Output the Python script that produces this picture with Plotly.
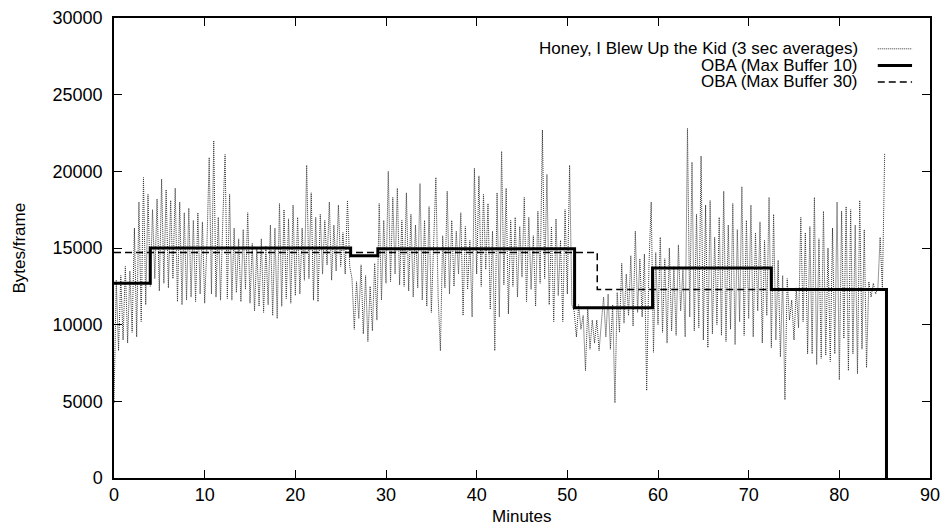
import numpy as np
import plotly.graph_objects as go

# 3 sec averages, resampled every 0.25 min
step_min = 0.25
trace_vals = [
    # 0-10 min
    4900, 12900, 8300, 13200, 9000, 13800, 8800, 13500, 9500, 16300,
    9200, 18000, 10200, 19600, 11300, 18500, 12500, 17500, 13000, 18200,
    12200, 19500, 12700, 18800, 12400, 18100, 13000, 18900, 11500, 18000,
    11300, 17300, 11600, 17600, 11800, 16800, 11500, 17300, 12000, 16700,
    # 10-20 min
    11400, 15200, 20900, 12000, 22000, 11800, 17000, 11600, 16800, 21100,
    11700, 18500, 11600, 16300, 12100, 15600, 11500, 16200, 12300, 17300,
    11400, 15300, 10900, 15000, 11200, 15600, 10800, 15100, 11300, 16500,
    10600, 16300, 10400, 17900, 11200, 17500, 11700, 16900, 11400, 17800,
    # 20-30 min
    11900, 17000, 12000, 16300, 12900, 20400, 13000, 18600, 11600, 17000,
    11500, 17200, 13300, 16800, 13900, 18000, 12900, 16500, 13500, 17800,
    13800, 16000, 13300, 18100, 13800, 13000, 9700, 12800, 10400, 13900,
    9400, 13200, 8900, 12500, 9600, 14000, 10300, 17900, 11600, 16800,
    # 30-40 min
    12700, 20000, 12800, 18300, 13300, 18900, 12600, 16800, 12500, 18600,
    12200, 17200, 11800, 16500, 12400, 19200, 11600, 16800, 11200, 17700,
    10800, 15700, 19600, 11800, 8300, 15800, 12400, 18700, 12000, 16800,
    12500, 16100, 13300, 17300, 10600, 16400, 12300, 15500, 10500, 20200,
    # 40-50 min
    13300, 19700, 12500, 18500, 13600, 17900, 11000, 16100, 8300, 18600,
    10500, 21300, 12600, 18900, 10700, 16800, 12500, 17000, 11800, 16400,
    13100, 18300, 11500, 17000, 12300, 15800, 11200, 17400, 12700, 22700,
    13000, 19800, 11300, 16400, 10200, 16900, 11900, 15500, 10200, 17500,
    # 50-60 min
    12000, 20400, 11300, 10900, 9200, 11300, 9700, 10600, 7000, 11100,
    8400, 10300, 8800, 10300, 8300, 10100, 11800, 9200, 12000, 8400,
    11300, 4900, 12100, 9500, 14000, 10100, 13300, 10600, 14500, 9900,
    16100, 10800, 14300, 10500, 14600, 5700, 13800, 18000, 8200, 14700,
    # 60-70 min
    10000, 15700, 9500, 14300, 8800, 15000, 9600, 13800, 9300, 15200,
    10900, 13600, 9200, 22800, 10500, 20600, 9600, 17200, 9800, 21000,
    9000, 17800, 8500, 18100, 9400, 15700, 10000, 17000, 9300, 18700,
    8900, 16500, 9700, 17900, 8700, 16200, 10200, 19000, 9300, 16800,
    # 70-85 min
    10400, 17800, 9200, 16000, 10900, 16700, 8800, 15500, 10600, 18300,
    8500, 17200, 9000, 14200, 7900, 13200, 5100, 13000, 10300, 11600,
    9000, 12400, 9800, 17000, 10200, 16000, 8100, 16400, 8100, 18300,
    7400, 15600, 7800, 17400, 8000, 15000, 7600, 16300, 8100, 18000,
    6400, 17400, 9100, 17700, 7000, 17500, 8100, 16500, 6800, 18100,
    8400, 16200, 7200, 12800, 11800, 12700, 12000, 12400, 15700, 12300,
    21200,
]

# OBA step schedules
oba10_x = [0, 4.0, 26.1, 29.1, 50.8, 59.4, 72.5, 85.2]
oba10_y = [12700, 15000, 14500, 14950, 11100, 13700, 12300, 0]
oba30_x = [0, 53.3, 85.2]
oba30_y = [14700, 12300, 12300]

trace_x = np.arange(len(trace_vals)) * step_min

FONT = "Liberation Sans, Arial, Helvetica, sans-serif"
DOTTED = dict(color="#333333", width=1, dash="1px,1px")
SOLID = dict(color="black", width=3)
DASHED = dict(color="black", width=1.5, dash="7px,4px")

fig = go.Figure()
fig.add_trace(go.Scatter(x=trace_x, y=trace_vals, mode="lines", line=DOTTED))
fig.add_trace(go.Scatter(x=oba10_x, y=oba10_y, mode="lines", line_shape="hv", line=SOLID))
fig.add_trace(go.Scatter(x=oba30_x, y=oba30_y, mode="lines", line_shape="hv", line=DASHED))

# gnuplot-style key: right-aligned text, sample line on the right
key_labels = ["Honey, I Blew Up the Kid (3 sec averages)",
              "OBA (Max Buffer 10)",
              "OBA (Max Buffer 30)"]
key_lines = [DOTTED, SOLID, DASHED]
key_y = [0.933, 0.897, 0.861]
for label, ln, ky in zip(key_labels, key_lines, key_y):
    fig.add_annotation(x=0.914, y=ky, xref="paper", yref="paper", text=label,
                       showarrow=False, xanchor="right", yanchor="middle",
                       font=dict(family=FONT, size=17, color="black"))
    fig.add_shape(type="line", xref="paper", yref="paper",
                  x0=0.936, x1=0.978, y0=ky, y1=ky, line=ln)

fig.add_annotation(x=0.5, y=-0.083, xref="paper", yref="paper", text="Minutes",
                   showarrow=False, xanchor="center", yanchor="middle",
                   font=dict(family=FONT, size=17, color="black"))
fig.add_annotation(x=-0.117, y=0.5, xref="paper", yref="paper", text="Bytes/frame",
                   showarrow=False, textangle=-90, xanchor="center", yanchor="middle",
                   font=dict(family=FONT, size=17, color="black"))

axis_style = dict(showline=True, linecolor="black", linewidth=1.5, mirror="ticks",
                  ticks="inside", ticklen=8, tickwidth=1, tickcolor="black",
                  showgrid=False, zeroline=False, automargin=False, tickformat="d",
                  tickfont=dict(family=FONT, size=18, color="black"))
fig.update_xaxes(range=[0, 90], tickvals=list(range(0, 91, 10)), **axis_style)
fig.update_yaxes(range=[0, 30000], tickvals=list(range(0, 30001, 5000)),
                 ticklabelstandoff=6, **axis_style)

fig.update_layout(width=946, height=529, plot_bgcolor="white", paper_bgcolor="white",
                  margin=dict(l=114, r=16, t=18, b=51, autoexpand=False),
                  showlegend=False,
                  font=dict(family=FONT, size=18, color="black"))

# drop the page's default body margin so the figure fills the window exactly
fig.write_html("out.html", config={"displayModeBar": False},
               post_script="document.body.style.margin='0';document.body.style.overflow='hidden';")
